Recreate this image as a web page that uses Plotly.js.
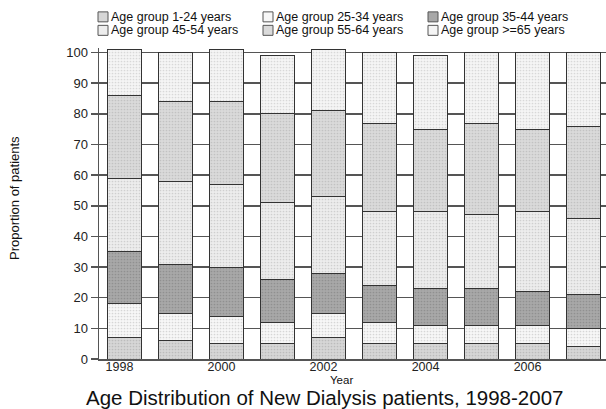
<!DOCTYPE html>
<html>
<head>
<meta charset="utf-8">
<script src="https://cdn.plot.ly/plotly-3.0.1.min.js"></script>
<style>html,body{margin:0;padding:0;overflow:hidden;background:#fff;}</style>
</head>
<body>
<div id="chart" style="width:606px;height:409px;"></div>
<script>
const years = [1998, 1999, 2000, 2001, 2002, 2003, 2004, 2005, 2006, 2007];
const groupNames = ["Age group 1-24 years", "Age group 25-34 years", "Age group 35-44 years",
                    "Age group 45-54 years", "Age group 55-64 years", "Age group >=65 years"];
const age1_24  = [7, 6, 5, 5, 7, 5, 5, 5, 5, 4];
const age25_34 = [11, 9, 9, 7, 8, 7, 6, 6, 6, 6];
const age35_44 = [17, 16, 16, 14, 13, 12, 12, 12, 11, 11];
const age45_54 = [24, 27, 27, 25, 25, 24, 25, 24, 26, 25];
const age55_64 = [27, 26, 27, 29, 28, 29, 27, 30, 27, 30];
const age65    = [15, 16, 17, 19, 20, 23, 24, 23, 25, 24];
const tickYears = [1998, 2000, 2002, 2004, 2006];

const series = [age1_24, age25_34, age35_44, age45_54, age55_64, age65];
const bgColors = ["#d6d6d6", "#f7f7f7", "#a8a8a8", "#ededed", "#dadada", "#f5f5f5"];
const fgColors = ["#bcbcbc", "#d6d6d6", "#909090", "#cfcfcf", "#c2c2c2", "#d8d8d8"];

const W = 606, H = 409;
const M = {l: 99, r: 0, t: 47.7, b: 49.6};
const PW = W - M.l - M.r, PH = H - M.t - M.b;
const px = x => (x - M.l) / PW;            // pixel x -> paper x
const py = y => (H - M.b - y) / PH;        // pixel y -> paper y

const traces = series.map((vals, i) => ({
  type: "bar",
  x: years,
  y: vals,
  name: groupNames[i],
  width: 0.66,
  marker: {
    color: bgColors[i],
    pattern: {shape: ".", fgcolor: fgColors[i], bgcolor: bgColors[i], size: 3, solidity: 0.25},
    line: {color: "#333", width: 1}
  },
  hoverinfo: "skip",
  showlegend: false
}));

// manual legend (3 columns x 2 rows)
const legCols = [98, 263, 428];
const legRows = [16.5, 30];
const shapes = [];
const annotations = [];
groupNames.forEach((name, i) => {
  const cx = legCols[i % 3], cy = legRows[Math.floor(i / 3)];
  shapes.push({type: "rect", xref: "paper", yref: "paper",
    x0: px(cx), x1: px(cx + 10), y0: py(cy - 5), y1: py(cy + 5),
    fillcolor: bgColors[i], line: {color: "#555", width: 1}});
  annotations.push({text: name, xref: "paper", yref: "paper",
    x: px(cx + 12), y: py(cy), xanchor: "left", yanchor: "middle", showarrow: false,
    borderpad: 0, font: {size: 12.5, color: "#111"}});
});

annotations.push(
  {text: "Age Distribution of New Dialysis patients, 1998-2007", xref: "paper", yref: "paper",
   x: px(324), y: py(398), xanchor: "center", yanchor: "middle", showarrow: false,
   borderpad: 0, font: {size: 20.5, color: "#111"}},
  {text: "Year", xref: "paper", yref: "paper", x: px(341), y: py(380.5),
   xanchor: "center", yanchor: "middle", showarrow: false, borderpad: 0,
   font: {size: 11.5, color: "#111"}},
  {text: "Proportion of patients", xref: "paper", yref: "paper", x: px(15), y: py(198),
   xanchor: "center", yanchor: "middle", textangle: -90, showarrow: false,
   font: {size: 13, color: "#111"}}
);

const layout = {
  width: W, height: H,
  margin: M,
  barmode: "stack",
  paper_bgcolor: "#fff",
  plot_bgcolor: "#fff",
  font: {family: "Liberation Sans, Arial, sans-serif", color: "#111"},
  showlegend: false,
  xaxis: {
    range: [1997.5, 2007.44],
    tickvals: tickYears,
    ticktext: tickYears.map(String),
    ticks: "",
    showgrid: false,
    showline: true, linecolor: "#555", linewidth: 1.5,
    zeroline: false,
    tickfont: {size: 12.5, color: "#222"},
    ticklabelshift: -5,
    ticklabelstandoff: -5
  },
  yaxis: {
    range: [0, 101.5],
    tickvals: [0,10,20,30,40,50,60,70,80,90,100],
    ticks: "outside", ticklen: 7, tickcolor: "#555", tickwidth: 1.5,
    showgrid: true, gridcolor: "#555", gridwidth: 1.5,
    showline: true, linecolor: "#555", linewidth: 1.5,
    zeroline: false,
    tickfont: {size: 13, color: "#222"}
  },
  shapes: shapes,
  annotations: annotations
};

Plotly.newPlot("chart", traces, layout, {displayModeBar: false, staticPlot: true});
</script>
</body>
</html>
